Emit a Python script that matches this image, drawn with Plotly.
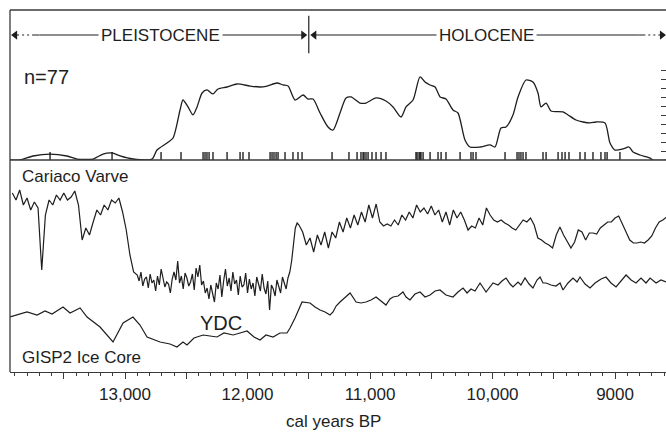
import plotly.graph_objects as go

# ---------------- data ----------------
# summed probability of radiocarbon dates (n=77), relative units
prob_age = [13939, 13857, 13751, 13612, 13474, 13392, 13261, 13180, 13106, 13041,
            12935, 12780, 12739, 12657, 12608, 12551, 12527, 12486, 12445, 12412,
            12371, 12331, 12282, 12241, 12167, 12086, 11980, 11898, 11841, 11759,
            11710, 11669, 11612, 11547, 11506, 11465, 11408, 11343, 11302, 11245,
            11196, 11155, 11082, 11033, 10951, 10870, 10812, 10747, 10706, 10649,
            10592, 10551, 10510, 10469, 10428, 10380, 10323, 10282, 10225, 10184,
            10102, 10020, 9980, 9931, 9890, 9833, 9792, 9727, 9670, 9629,
            9604, 9563, 9523, 9425, 9384, 9318, 9261, 9204, 9155, 9082,
            9041, 9000, 8935, 8886, 8853, 8796, 8714, 8690, 8560]
prob_val = [0, 0, 0.45, 0.67, 0.45, 0.11, 0.11, 0.67, 0.79, 0.45,
            0.11, 0.11, 1.12, 1.91, 2.47, 5.62, 6.74, 5.96, 5.06, 5.96,
            7.53, 7.87, 7.42, 7.98, 8.20, 8.54, 8.31, 8.20, 8.31, 8.65,
            8.43, 8.31, 6.74, 7.30, 6.85, 6.85, 5.28, 3.71, 3.37, 5.28,
            6.97, 7.08, 6.40, 6.40, 6.97, 6.63, 5.96, 4.83, 5.96, 6.74,
            9.33, 8.76, 8.43, 8.20, 7.08, 6.85, 5.62, 5.28, 2.25, 1.46,
            1.46, 1.69, 1.46, 3.60, 3.71, 5.06, 7.08, 8.99, 8.76, 7.53,
            5.96, 6.40, 5.51, 5.40, 5.06, 4.49, 4.27, 4.16, 4.27, 4.16,
            1.91, 1.12, 1.24, 1.46, 0.90, 0.56, 0.22, 0, 0]

# individual calibrated date medians (rug)
date_age = [13612, 13106, 12706, 12543, 12363, 12347, 12331, 12314, 12282, 12167,
            12061, 12037, 11988, 11816, 11800, 11784, 11767, 11751, 11694, 11629,
            11588, 11555, 11310, 11172, 11106, 11074, 11057, 11049, 11033, 11016,
            10984, 10951, 10910, 10870, 10625, 10616, 10600, 10592, 10584, 10567,
            10510, 10445, 10420, 10380, 10265, 10176, 10159, 10135, 9898, 9800,
            9784, 9768, 9751, 9727, 9588, 9563, 9465, 9433, 9408, 9376,
            9286, 9245, 9180, 9115, 9082, 9065, 8960]
rug_height = 0.9

# Cariaco Basin varve greyscale (relative): 30-yr steps, 15-yr steps through the YD
cariaco_age = (list(range(13920, 12900, -30)) + list(range(12900, 11580, -15))
               + list(range(11580, 8570, -30)))
cariaco_val = [180, 173, 183, 168, 175, 163, 171, 165,
               103, 158, 173, 168, 178, 173, 180, 173, 176, 182, 168,
               133, 145, 138, 151, 163, 158, 168, 163, 173, 170, 175, 161,
               143, 118, 101,
               # Younger Dryas (15-yr)
               98, 92, 101, 87, 94, 96, 85, 99, 90, 93, 82, 97, 88, 104, 95, 86, 91, 89, 80, 94,
               101, 93, 112, 90, 97, 84, 100, 95, 87, 91, 99, 83, 105, 96, 108, 88, 92, 80, 85, 74,
               88, 79, 71, 90, 84, 98, 76, 92, 104, 87, 95, 82, 101, 89, 93, 78, 97, 86, 88, 100,
               80, 94, 84, 90, 77, 96, 88, 82, 99, 85, 79, 92, 63, 88, 84, 77, 93, 86, 80, 96,
               90, 84, 95, 101, 112, 128, 145, 150,
               # Holocene (30-yr)
               148,
               141, 128, 135, 121, 138, 128, 141, 125, 141, 135, 151, 141,
               155, 145, 158, 148, 161, 151, 168, 155, 169, 151, 147, 149,
               147, 153, 148, 158, 153, 161, 155, 168, 161, 165, 159, 167,
               158, 163, 151, 161, 148, 163, 155, 161, 153, 143, 147, 145,
               155, 148, 165, 158, 153, 151, 153, 150, 148, 145, 143, 148,
               153, 151, 155, 148, 135, 133, 130, 128, 125, 138, 146, 138,
               131, 125, 131, 143, 141, 133, 140, 140, 139, 145, 148, 151,
               151, 155, 157, 148, 141, 133, 130, 130, 131, 130, 133, 137,
               145, 151, 153, 156]

# GISP2 ice core (relative, plotted below the Cariaco record)
gisp_age = [13939, 13800, 13718, 13653, 13596, 13506, 13449, 13367, 13310, 13204,
            13098, 13016, 12935, 12878, 12820, 12714, 12633, 12576, 12527, 12494,
            12437, 12363, 12306, 12249, 12192, 12118, 12061, 12004, 11947, 11898,
            11849, 11792, 11735, 11678, 11653, 11612, 11555, 11490, 11449, 11408,
            11367, 11327, 11302, 11277, 11245, 11204, 11163, 11114, 11074, 11033,
            10992, 10951, 10910, 10870, 10837, 10812, 10771, 10731, 10706, 10674,
            10633, 10592, 10551, 10510, 10469, 10429, 10380, 10323, 10282, 10241,
            10208, 10176, 10143, 10102, 10053, 10020, 9996, 9955, 9923, 9890,
            9857, 9833, 9792, 9768, 9735, 9702, 9670, 9637, 9612, 9588,
            9563, 9523, 9482, 9449, 9425, 9384, 9343, 9310, 9286, 9245,
            9204, 9163, 9114, 9074, 9033, 8992, 8951, 8910, 8869, 8829,
            8788, 8747, 8714, 8665, 8625, 8584]
gisp_val = [56, 61, 58, 62, 59, 66, 60, 65, 56, 46,
            31, 50, 56, 48, 36, 31, 29, 26, 31, 28,
            35, 38, 37, 36, 40, 38, 40, 42, 36, 33,
            38, 36, 40, 40, 45, 55, 71, 70, 66, 63,
            61, 58, 61, 67, 71, 76, 80, 71, 70, 71,
            73, 76, 72, 68, 74, 76, 77, 81, 76, 73,
            79, 81, 76, 78, 82, 83, 78, 76, 81, 85,
            80, 84, 82, 90, 81, 86, 90, 88, 92, 95,
            89, 86, 91, 88, 95, 89, 85, 93, 96, 90,
            90, 88, 87, 90, 83, 90, 95, 91, 96, 89,
            85, 90, 94, 96, 90, 86, 92, 98, 93, 90,
            95, 90, 95, 90, 93, 91]

# epochs
epoch_names = ["PLEISTOCENE", "HOLOCENE"]
epoch_start = [13922, 11500]
epoch_end = [11500, 8592]

x_range = [13939, 8584]
tick_vals = [13500, 13000, 12500, 12000, 11500, 11000, 10500, 10000, 9500, 9000, 8500]
tick_text = ["", "13,000", "", "12,000", "", "11,000", "", "10,000", "", "9000", ""]

# ---------------- figure ----------------
INK = "#1e1e1e"
FONT = "Arial, Liberation Sans, sans-serif"
split = (372 - 160) / 362.0   # panel split (paper fraction)
top_max = 16.85
low_rng = [1, 213]
epoch_y = 14.04
DASHDOT = "7px,3px,2px,3px,2px,3px"

fig = go.Figure()

# summed probability curve
fig.add_trace(go.Scatter(x=prob_age, y=prob_val, mode="lines",
                         line=dict(color=INK, width=1.3, shape="spline", smoothing=0.7),
                         xaxis="x", yaxis="y", hoverinfo="skip"))
# rug of individual dates
rx, ry = [], []
for d in date_age:
    rx += [d, d, None]
    ry += [0, rug_height, None]
fig.add_trace(go.Scatter(x=rx, y=ry, mode="lines", line=dict(color="#111111", width=1.3),
                         xaxis="x", yaxis="y", hoverinfo="skip"))

# Cariaco varve
fig.add_trace(go.Scatter(x=cariaco_age, y=cariaco_val, mode="lines",
                         line=dict(color=INK, width=1.2),
                         xaxis="x", yaxis="y2", hoverinfo="skip"))
# GISP2
fig.add_trace(go.Scatter(x=gisp_age, y=gisp_val, mode="lines",
                         line=dict(color=INK, width=1.2),
                         xaxis="x", yaxis="y2", hoverinfo="skip"))

# epoch bar lines
p0, p1 = epoch_start[0], epoch_end[0]
h0, h1 = epoch_start[1], epoch_end[1]
fig.add_trace(go.Scatter(x=[p0, 13700], y=[epoch_y, epoch_y], mode="lines",
                         line=dict(color=INK, width=1.2, dash=DASHDOT), hoverinfo="skip"))
fig.add_trace(go.Scatter(x=[13700, p1 + 25], y=[epoch_y, epoch_y], mode="lines",
                         line=dict(color=INK, width=1.2), hoverinfo="skip"))
fig.add_trace(go.Scatter(x=[h0 - 25, 8810], y=[epoch_y, epoch_y], mode="lines",
                         line=dict(color=INK, width=1.2), hoverinfo="skip"))
fig.add_trace(go.Scatter(x=[8810, h1], y=[epoch_y, epoch_y], mode="lines",
                         line=dict(color=INK, width=1.2, dash=DASHDOT), hoverinfo="skip"))
# arrowheads
fig.add_trace(go.Scatter(x=[p0 - 25, h0 - 45], y=[epoch_y, epoch_y], mode="markers",
                         marker=dict(symbol="triangle-left", size=8, color=INK,
                                     line=dict(width=0)), hoverinfo="skip"))
fig.add_trace(go.Scatter(x=[p1 + 45, h1 + 25], y=[epoch_y, epoch_y], mode="markers",
                         marker=dict(symbol="triangle-right", size=8, color=INK,
                                     line=dict(width=0)), hoverinfo="skip"))

shapes = [
    dict(type="line", xref="paper", yref="paper", x0=0, x1=0, y0=0, y1=1,
         line=dict(color="#3a3a3a", width=1.3)),
    dict(type="line", xref="paper", yref="paper", x0=0, x1=1, y0=1, y1=1,
         line=dict(color="#3a3a3a", width=1.3)),
    dict(type="line", xref="paper", yref="paper", x0=0, x1=1, y0=split, y1=split,
         line=dict(color="#3a3a3a", width=1.3)),
    dict(type="line", xref="x", yref="y", x0=epoch_start[1], x1=epoch_start[1],
         y0=12.0, y1=16.2, line=dict(color=INK, width=1.2)),
]

annotations = []
for name, s, e in zip(epoch_names, epoch_start, epoch_end):
    annotations.append(dict(x=(s + e) / 2, y=epoch_y, xref="x", yref="y", text=name,
                            showarrow=False, bgcolor="white", borderpad=2,
                            font=dict(family=FONT, size=17, color=INK)))
annotations += [
    dict(x=12 / 656, y=(372 - 77) / 362, xref="paper", yref="paper", text="n=77",
         xanchor="left", yanchor="middle", showarrow=False,
         font=dict(family=FONT, size=20, color=INK)),
    dict(x=10 / 656, y=(372 - 176) / 362, xref="paper", yref="paper", text="Cariaco Varve",
         xanchor="left", yanchor="middle", showarrow=False,
         font=dict(family=FONT, size=17, color=INK)),
    dict(x=12216, y=50, xref="x", yref="y2", text="YDC",
         xanchor="center", yanchor="middle", showarrow=False,
         font=dict(family=FONT, size=20, color=INK)),
    dict(x=10 / 656, y=(372 - 357) / 362, xref="paper", yref="paper", text="GISP2 Ice Core",
         xanchor="left", yanchor="middle", showarrow=False,
         font=dict(family=FONT, size=17, color=INK)),
    dict(x=(333 - 10) / 656, y=(372 - 421) / 362, xref="paper", yref="paper",
         text="cal years BP", xanchor="center", yanchor="middle", showarrow=False,
         font=dict(family=FONT, size=17, color=INK)),
]

fig.update_layout(
    width=666, height=438,
    margin=dict(l=10, r=0, t=10, b=66),
    paper_bgcolor="white", plot_bgcolor="white",
    showlegend=False,
    xaxis=dict(range=x_range, autorange=False, showgrid=False, zeroline=False,
               showline=True, linecolor="#3a3a3a", linewidth=1.3,
               ticks="outside", ticklen=6, tickwidth=1, tickcolor="#3a3a3a",
               tickvals=tick_vals, ticktext=tick_text,
               ticklabelstandoff=0,
               tickfont=dict(family=FONT, size=17, color=INK),
               minor=dict(dtick=100, tick0=0, ticks="outside", ticklen=3,
                          tickwidth=1, tickcolor="#3a3a3a", showgrid=False),
               anchor="y2"),
    yaxis=dict(domain=[split, 1], range=[0, top_max], autorange=False,
               side="right", anchor="x", showgrid=False, zeroline=False,
               showline=False, ticks="inside", ticklen=5, tickwidth=1,
               tickcolor="#3a3a3a", tickvals=list(range(1, 11)),
               showticklabels=False),
    yaxis2=dict(domain=[0, split], range=low_rng, autorange=False,
                anchor="x", showgrid=False, zeroline=False, showline=False,
                showticklabels=False, ticks=""),
    shapes=shapes,
    annotations=annotations,
)

fig.write_html("out.html")
